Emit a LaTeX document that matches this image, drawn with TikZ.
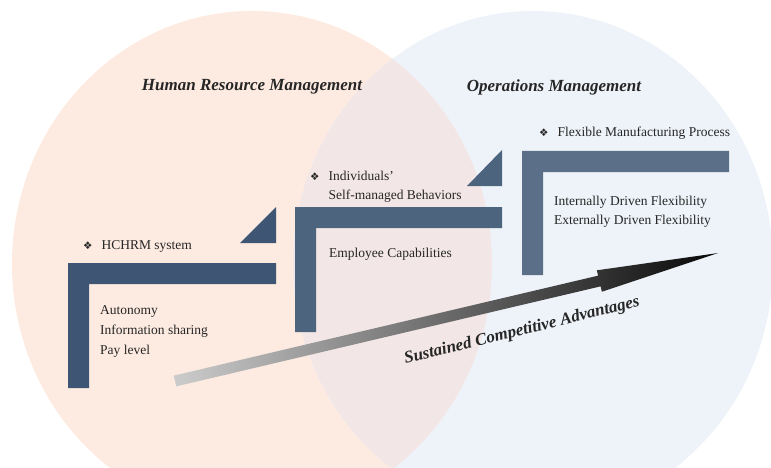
\documentclass[tikz,border=0pt]{standalone}
\usepackage{fontspec}
\setmainfont{Liberation Serif}
\newfontfamily\dingfont{DejaVu Sans}
\usepackage{tikz}

\definecolor{hrmpeach}{HTML}{FDEBE1}
\definecolor{omblue}{HTML}{EEF3F9}
\definecolor{bothpink}{HTML}{F3E6E6}
\definecolor{stepblue}{HTML}{3E5674}
\definecolor{txtgray}{HTML}{262626}

\newcommand{\dia}{{\dingfont\fontsize{10.5}{10}\selectfont ❖}\hspace{9pt}}

\tikzset{
  title/.style={font=\fontsize{17}{20}\selectfont\bfseries\itshape, text=txtgray},
  label/.style={font=\fontsize{13.5}{20}\selectfont, text=txtgray, align=left, anchor=west, inner sep=0pt},
  stepbar/.style={fill=stepblue}
}

\begin{document}
\begin{tikzpicture}[x=1pt,y=-1pt]
\useasboundingbox (0,0) rectangle (771,468);

% Management circles
\fill[hrmpeach] (252,264) ellipse [x radius=240, y radius=253];
\fill[omblue] (533,264) ellipse [x radius=240, y radius=253];
\begin{scope}
\clip (252,264) ellipse [x radius=240, y radius=253];
\fill[bothpink] (533,264) ellipse [x radius=240, y radius=253];
\end{scope}

% Titles
\node[title] (hrm) at (252,87) {Human Resource Management};
\node[title] (om) at (554,87) {Operations Management};

% Steps
\fill[stepbar] (68,263) -- (276,263) -- (276,284) -- (89,284) -- (89,388) -- (68,388) -- cycle;
\fill[stepbar] (240,243) -- (276,207) -- (276,243) -- cycle;

\fill[stepbar, fill=stepblue!92!white] (295,207) -- (502,207) -- (502,228) -- (316,228) -- (316,332) -- (295,332) -- cycle;
\fill[stepbar, fill=stepblue!92!white] (467,186) -- (502,150) -- (502,186) -- cycle;

\fill[stepbar, fill=stepblue!85!white] (522,151) -- (729,151) -- (729,172) -- (543,172) -- (543,275) -- (522,275) -- cycle;

% Step labels
\node[label] (hchrm) at (83,246) {\dia HCHRM system};
\node[label] (hchrm items) at (100,331) {Autonomy\\Information sharing\\Pay level};

\node[label, font=\fontsize{13.5}{18.5}\selectfont] (indiv) at (310,187) {\dia Individuals'\\\phantom{\dia}Self-managed Behaviors};
\node[label] (empcap) at (329,254) {Employee Capabilities};

\node[label] (fmp) at (539,133) {\dia Flexible Manufacturing Process};
\node[label, font=\fontsize{13.5}{19}\selectfont] (flex) at (554,212) {Internally Driven Flexibility\\Externally Driven Flexibility};

% Advantage arrow
\coordinate (sca tail) at (175,381);
\coordinate (sca tip) at (718,253);
\begin{scope}[shift={(sca tail)}, rotate=13.26]
\shade[left color=black!20, middle color=black!58, right color=black!97]
  (0,-5.5) -- (436,-5.5) -- (436,-11) -- (558,0) -- (436,11) -- (436,5.5) -- (0,5.5) -- cycle;
\end{scope}
\node[title, rotate=13.8] (sca) at (522,331) {Sustained Competitive Advantages};
\end{tikzpicture}
\end{document}
